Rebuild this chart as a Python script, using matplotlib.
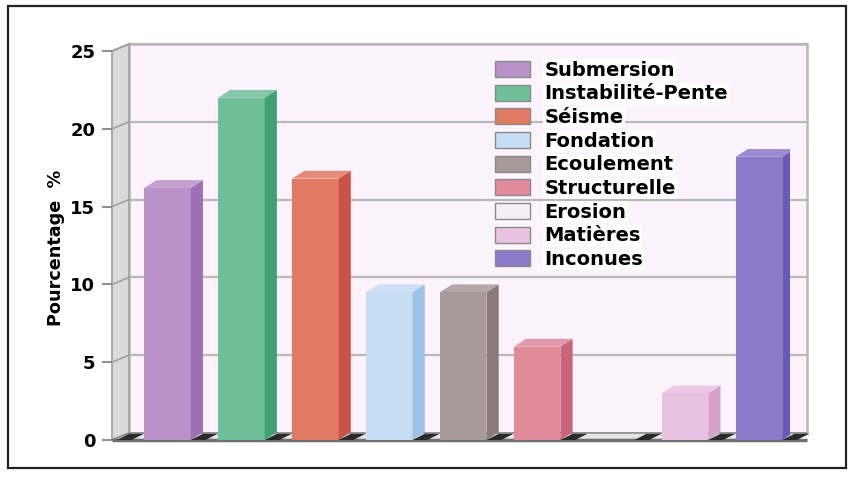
import matplotlib
matplotlib.use("Agg")
import matplotlib.pyplot as plt
from matplotlib.patches import Polygon, Rectangle, Patch

# Causes of failure and their share (%)
categories = ["Submersion", "Instabilité-Pente", "Séisme", "Fondation", "Ecoulement",
              "Structurelle", "Erosion", "Matières", "Inconues"]
values = [16.2, 22.0, 16.8, 9.5, 9.5, 6.0, 0.0, 3.0, 18.2]
y_ticks = [0, 5, 10, 15, 20, 25]

front_colors = ["#b892c9", "#6fbf98", "#e07a62", "#c6ddf4", "#a89a9a",
                "#e08a9a", "#f6eef6", "#e8c2e0", "#8a7ac8"]
side_colors = ["#9c6fb6", "#3ea273", "#c9524a", "#9cc3e6", "#8a7a7a",
               "#c9657a", "#e6dae6", "#d6a2cc", "#6a5ab8"]

fig = plt.figure(figsize=(8.52, 4.99), dpi=100)
fig.patch.set_facecolor("white")

# outer frame
fig.patches.append(Rectangle((8 / 852, 1 - 468 / 499), 838 / 852, 462 / 499,
                             transform=fig.transFigure, fill=False,
                             edgecolor="#222222", linewidth=1.6))

ax = fig.add_axes([112 / 852, 1 - 440 / 499, 678 / 852, 389 / 499])
x0, x1 = -0.75, 8.42
ymax = 25
ax.set_xlim(x0, x1)
ax.set_ylim(0, ymax)
ax.patch.set_alpha(0)
for s in ax.spines.values():
    s.set_visible(False)

# depth offsets (data units) for walls and bars
wdx, wdy = 0.23, 0.45
bdx, bdy = 0.165, 0.50
bw = 0.63

# back wall
ax.add_patch(Rectangle((x0 + wdx, wdy), x1 - x0, ymax, facecolor="#fcf3fc",
                       edgecolor="#b8b8b8", linewidth=1.8, zorder=0.5, clip_on=False))
# left wall
ax.add_patch(Polygon([(x0, 0), (x0, ymax), (x0 + wdx, ymax + wdy), (x0 + wdx, wdy)],
                     closed=True, facecolor="#dadada", edgecolor="#a8a8a8",
                     linewidth=1.4, zorder=1, clip_on=False))
# floor
ax.add_patch(Polygon([(x0, 0), (x1, 0), (x1 + wdx, wdy), (x0 + wdx, wdy)],
                     closed=True, facecolor="#e4e4e4", edgecolor="#808080",
                     linewidth=1.0, zorder=1, clip_on=False))
ax.plot([x0, x1 + wdx], [0, 0], color="#707070", linewidth=2.5, zorder=1.2,
        clip_on=False, solid_capstyle="butt")

# grid lines on back and left walls
for yv in y_ticks[1:]:
    ax.plot([x0 + wdx, x1 + wdx], [yv + wdy, yv + wdy], color="#b8b8b8",
            linewidth=1.6, zorder=0.8, clip_on=False)
    ax.plot([x0, x0 + wdx], [yv, yv + wdy], color="#a0a0a0",
            linewidth=1.2, zorder=1.1, clip_on=False)

# floor shadows between bars
for i in range(-1, len(values)):
    xs = i + bw / 2
    ax.add_patch(Polygon([(xs, 0), (xs + 0.2, 0), (xs + 0.2 + bdx, 0.4), (xs + bdx, 0.4)],
                         closed=True, facecolor="#2a2a2a", edgecolor="none",
                         zorder=1.5, clip_on=False))

# 3D bars: front face from ax.bar, then side and top faces
xpos = list(range(len(values)))
ax.bar(xpos, values, width=bw, color=front_colors, edgecolor="none", zorder=3)
for x, v, fc, sc in zip(xpos, values, front_colors, side_colors):
    if v <= 0:
        continue
    l, r = x - bw / 2, x + bw / 2
    ax.add_patch(Polygon([(r, 0), (r, v), (r + bdx, v + bdy), (r + bdx, bdy)],
                         closed=True, facecolor=sc, edgecolor="none", zorder=3))
    ax.add_patch(Polygon([(l, v), (r, v), (r + bdx, v + bdy), (l + bdx, v + bdy)],
                         closed=True, facecolor=fc, edgecolor="none", zorder=3,
                         alpha=0.85))

# axis ticks and labels
ax.set_xticks([])
ax.set_yticks(y_ticks)
ax.set_yticklabels([str(t) for t in y_ticks], fontsize=13, fontweight="bold",
                   family="DejaVu Sans")
ax.tick_params(axis="y", direction="out", length=7, width=1.5, color="#909090", pad=5)
ax.set_ylabel("Pourcentage  %", fontsize=12.7, fontweight="bold", family="DejaVu Sans")
ax.yaxis.set_label_coords(-0.07, 0.494)

# legend
handles = [Patch(facecolor=c, edgecolor="#8a8a8a", linewidth=1.0) for c in front_colors]
leg = ax.legend(handles, categories, loc="upper left",
                bbox_to_anchor=(485 / 852, 1 - 51 / 499), bbox_transform=fig.transFigure,
                frameon=False, borderpad=0, handlelength=1.8, handleheight=0.9,
                handletextpad=0.75, labelspacing=0.24,
                prop={"family": "DejaVu Sans", "weight": "bold", "size": 14})
for t in leg.get_texts():
    t.set_bbox(dict(facecolor="white", edgecolor="none", pad=1))
leg.set_zorder(6)

fig.savefig("out.png", dpi=100)
